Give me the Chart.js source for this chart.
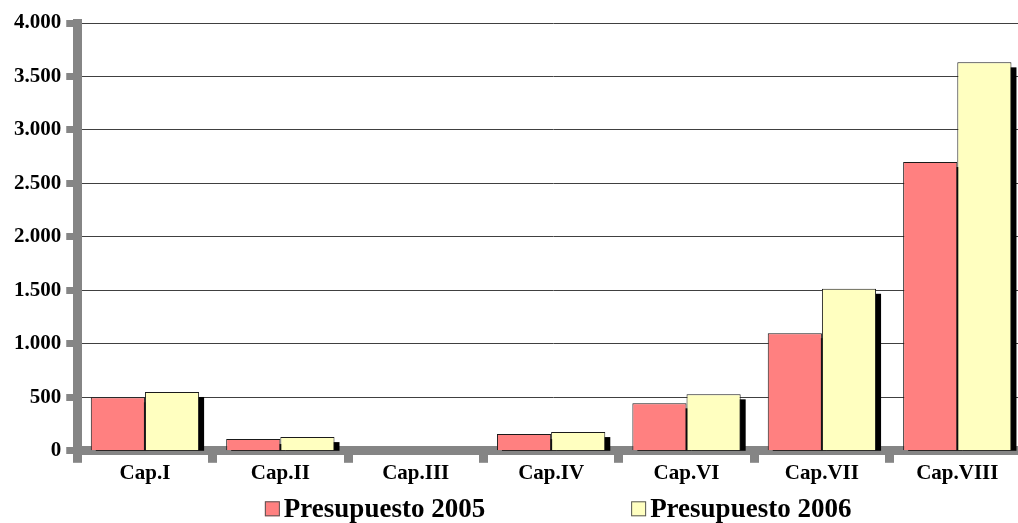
<!DOCTYPE html>
<html>
<head>
<meta charset="utf-8">
<script src="https://cdn.jsdelivr.net/npm/chart.js@4/dist/chart.umd.min.js"></script>
<style>
html, body { margin: 0; padding: 0; background: #ffffff; overflow: hidden; }
#wrap { position: relative; width: 1026px; height: 523px; }
</style>
</head>
<body>
<div id="wrap"><canvas id="c"></canvas></div>
<script>
// ---- data ----
const categories = ['Cap.I', 'Cap.II', 'Cap.III', 'Cap.IV', 'Cap.VI', 'Cap.VII', 'Cap.VIII'];
const presupuesto2005 = [500, 110, 0, 156, 444, 1100, 2700];
const presupuesto2006 = [550, 128, 0, 175, 528, 1515, 3632];
const seriesLabels = ['Presupuesto 2005', 'Presupuesto 2006'];
const yTickValues = [0, 500, 1000, 1500, 2000, 2500, 3000, 3500, 4000];
const yTickLabels = ['0', '500', '1.000', '1.500', '2.000', '2.500', '3.000', '3.500', '4.000'];

// ---- styles ----
const AXIS_GRAY = '#858585';
const SERIF = "'Liberation Serif', 'Times New Roman', serif";

// shadow behind bars (drawn from the bar elements' own geometry)
const barShadow = {
  id: 'barShadow',
  beforeDatasetsDraw(chart, args, opts) {
    const ctx = chart.ctx;
    const area = chart.chartArea;
    ctx.save();
    ctx.beginPath();
    ctx.rect(area.left, area.top, area.right - area.left, area.bottom - area.top);
    ctx.clip();
    ctx.fillStyle = opts.color;
    chart.data.datasets.forEach((ds, i) => {
      const meta = chart.getDatasetMeta(i);
      meta.data.forEach(el => {
        const p = el.getProps(['x', 'y', 'base', 'width'], true);
        if (Math.abs(p.base - p.y) < 0.5) return;
        ctx.fillRect(p.x - p.width / 2 + opts.dx, p.y + opts.dy, p.width, p.base - p.y);
      });
    });
    ctx.restore();
  }
};

// legend drawn below the axis from the datasets' labels and colours
const bottomLegend = {
  id: 'bottomLegend',
  afterDraw(chart, args, opts) {
    const ctx = chart.ctx;
    const area = chart.chartArea;
    ctx.save();
    ctx.font = opts.font;
    ctx.textBaseline = 'middle';
    ctx.textAlign = 'left';
    const items = chart.data.datasets.map(ds => ({
      text: ds.label, fill: ds.backgroundColor, w: ctx.measureText(ds.label).width
    }));
    const itemW = items.map(it => opts.box + opts.gap + it.w);
    const total = itemW.reduce((a, b) => a + b, 0) + opts.itemGap * (items.length - 1);
    let x = (area.left + area.right) / 2 + opts.shift - total / 2;
    const y = area.bottom + opts.offsetY;
    items.forEach((it, i) => {
      ctx.fillStyle = it.fill;
      ctx.fillRect(x, y - opts.box / 2, opts.box, opts.box);
      ctx.strokeStyle = '#555555';
      ctx.lineWidth = 1;
      ctx.strokeRect(x + 0.5, y - opts.box / 2 + 0.5, opts.box - 1, opts.box - 1);
      ctx.fillStyle = '#000000';
      ctx.fillText(it.text, x + opts.box + opts.gap, y + 1);
      x += itemW[i] + opts.itemGap;
    });
    ctx.restore();
  }
};

new Chart(document.getElementById('c'), {
  type: 'bar',
  data: {
    labels: categories,
    datasets: [
      {
        label: seriesLabels[0],
        data: presupuesto2005,
        backgroundColor: '#FF8080',
        borderColor: '#1a1a1a',
        borderWidth: 1
      },
      {
        label: seriesLabels[1],
        data: presupuesto2006,
        backgroundColor: '#FFFFC0',
        borderColor: '#1a1a1a',
        borderWidth: 1
      }
    ]
  },
  options: {
    responsive: true,
    maintainAspectRatio: false,
    animation: false,
    devicePixelRatio: 1,
    layout: { padding: { left: 9, right: 1, top: 23, bottom: 39 } },
    datasets: { bar: { categoryPercentage: 0.8, barPercentage: 1.0 } },
    plugins: {
      legend: { display: false },
      tooltip: { enabled: false },
      barShadow: { color: '#000000', dx: 5, dy: 5 },
      bottomLegend: { font: 'bold 27px ' + SERIF, box: 15, gap: 4, itemGap: 146, shift: 7, offsetY: 58 }
    },
    scales: {
      x: {
        z: 1,
        offset: true,
        grid: {
          display: true,
          drawOnChartArea: false,
          drawTicks: true,
          tickLength: 12,
          tickWidth: 9,
          tickColor: AXIS_GRAY,
          offset: true
        },
        border: { display: true, color: AXIS_GRAY, width: 9 },
        ticks: {
          color: '#000000',
          font: { family: SERIF, size: 21, weight: 'bold' },
          padding: -2,
          maxRotation: 0,
          autoSkip: false
        }
      },
      y: {
        min: 0,
        max: 4000,
        afterBuildTicks(scale) {
          scale.ticks = yTickValues.map(v => ({ value: v }));
        },
        grid: {
          color: '#404040',
          lineWidth: 1,
          drawTicks: true,
          tickLength: 11,
          tickWidth: 7,
          tickColor: AXIS_GRAY
        },
        border: { display: true, color: AXIS_GRAY, width: 9 },
        ticks: {
          color: '#000000',
          font: { family: SERIF, size: 21, weight: 'bold' },
          padding: 5,
          callback(value) {
            const i = yTickValues.indexOf(value);
            return i >= 0 ? yTickLabels[i] : '';
          }
        }
      }
    }
  },
  plugins: [barShadow, bottomLegend]
});
</script>
</body>
</html>
